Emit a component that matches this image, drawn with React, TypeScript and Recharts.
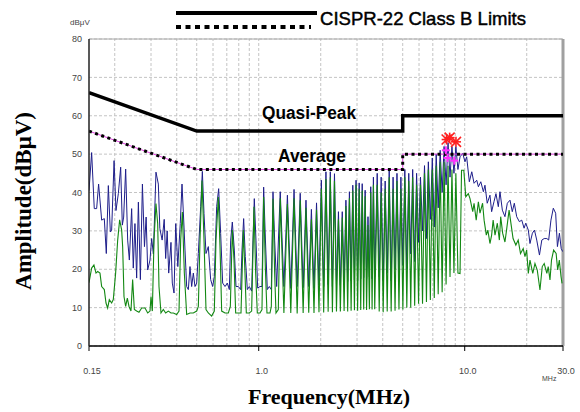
import { ComposedChart, Line, XAxis, YAxis, CartesianGrid, ReferenceLine, Scatter } from 'recharts';

// frequency in MHz, level in dBuV
const gridFreqs = [0.2, 0.3, 0.4, 0.5, 0.6, 0.7, 0.8, 0.9, 1, 2, 3, 4, 5, 6, 7, 8, 9, 10, 20];
const xTicks = [0.15, 1, 10, 30];
const yTicks = [0, 10, 20, 30, 40, 50, 60, 70, 80];

const qpLimit: [number, number][] = [[0.15, 66], [0.5, 56], [5, 56], [5, 60], [30, 60]];
const avgLimit: [number, number][] = [[0.15, 56], [0.5, 46], [5, 46], [5, 50], [30, 50]];

// peak detector scan (blue)
const peakScan: [number, number][] = [
  [0.15, 40.5], [0.1545, 50.4], [0.1591, 35.8], [0.1634, 35.8], [0.167, 42.2], [0.1728, 32.8], [0.178, 33.2],
  [0.182, 24.1], [0.1862, 41.8], [0.1904, 29.7], [0.1932, 30.2], [0.1985, 48.3], [0.2028, 35.3], [0.2082, 39.7],
  [0.2137, 46.6], [0.2177, 31.5], [0.221, 33.6], [0.226, 46.1], [0.2311, 27.6], [0.2355, 22.4], [0.2416, 35.8],
  [0.2461, 20.3], [0.2507, 31.9], [0.2555, 17.7], [0.2605, 37.5], [0.2664, 17.3], [0.2725, 42.2], [0.2788, 25.9],
  [0.2841, 33.6], [0.2891, 19.8], [0.2966, 22.4], [0.3022, 28.0], [0.308, 24.0], [0.3171, 45.3], [0.3256, 42.2],
  [0.3311, 30.6], [0.3398, 27.6], [0.3477, 33.0], [0.3534, 22.8], [0.3594, 30.0], [0.3656, 19.0], [0.375, 27.0],
  [0.3806, 16.4], [0.388, 13.8], [0.3955, 31.9], [0.4048, 20.7], [0.416, 31.9], [0.4242, 42.2], [0.4339, 31.0],
  [0.4387, 25.0], [0.4469, 15.5], [0.4553, 14.7], [0.4638, 20.7], [0.4726, 15.5], [0.4815, 19.0], [0.4905, 15.5],
  [0.4998, 16.4], [0.5092, 24.1], [0.5227, 36.3], [0.5325, 45.5], [0.5425, 34.5], [0.5547, 24.1], [0.5693, 25.9],
  [0.5844, 17.3], [0.5975, 15.5], [0.6088, 18.1], [0.6249, 36.3], [0.6391, 41.0], [0.6535, 29.3], [0.6683, 16.4],
  [0.686, 15.5], [0.7041, 16.4], [0.72, 14.7], [0.7309, 27.6], [0.7445, 32.3], [0.7614, 25.0], [0.7757, 15.5],
  [0.7962, 15.5], [0.8173, 14.7], [0.8296, 25.0], [0.845, 33.2], [0.8608, 23.3], [0.8803, 14.7], [0.9002, 15.5],
  [0.924, 14.3], [0.9379, 27.6], [0.9519, 38.4], [0.9698, 27.6], [0.9882, 15.1], [1.0143, 15.5], [1.0371, 15.5],
  [1.0566, 41.4], [1.0765, 28.4], [1.1008, 14.7], [1.1259, 15.5], [1.1513, 14.7], [1.173, 40.2], [1.1949, 27.6],
  [1.2221, 15.5], [1.272, 40.2], [1.325, 15.5], [1.378, 39.3], [1.431, 15.0], [1.484, 40.8], [1.537, 15.5],
  [1.59, 39.8], [1.643, 15.2], [1.696, 38.0], [1.749, 15.5], [1.802, 35.6], [1.855, 15.0], [1.908, 37.3],
  [1.961, 15.8], [2.014, 43.2], [2.067, 15.5], [2.12, 45.4], [2.173, 16.0], [2.226, 45.4], [2.279, 15.5],
  [2.332, 44.9], [2.385, 16.2], [2.438, 35.0], [2.491, 15.8], [2.544, 35.0], [2.597, 16.5], [2.65, 38.0],
  [2.703, 16.8], [2.756, 40.2], [2.809, 17.0], [2.862, 41.9], [2.915, 17.2], [2.968, 43.2], [3.021, 17.0],
  [3.074, 42.5], [3.127, 17.5], [3.18, 42.3], [3.233, 17.8], [3.286, 40.6], [3.339, 17.5], [3.392, 33.7],
  [3.445, 18.0], [3.498, 41.5], [3.551, 17.5], [3.604, 44.0], [3.657, 18.0], [3.76, 45], [3.845, 18],
  [3.93, 44], [4.02, 17], [4.11, 43], [4.205, 19], [4.3, 46], [4.395, 17], [4.49, 44], [4.59, 20], [4.69, 45],
  [4.795, 18], [4.9, 44], [5.01, 21], [5.12, 46], [5.235, 20], [5.35, 45], [5.47, 24], [5.59, 46], [5.715, 22],
  [5.84, 45], [5.97, 27], [6.1, 44], [6.24, 30], [6.38, 47], [6.52, 28], [6.66, 48], [6.81, 33], [6.96, 49],
  [7.115, 31], [7.27, 50], [7.435, 36], [7.6, 51], [7.77, 40], [7.94, 52], [8.12, 42], [8.3, 53], [8.485, 44],
  [8.67, 52], [8.865, 45], [9.06, 52], [9.27, 46], [9.49, 49.3], [9.78, 50.2], [10.03, 48.0], [10.22, 49.3],
  [10.53, 42.8], [10.82, 45.4], [11.1, 42.4], [11.44, 43.2], [11.65, 41.5], [11.97, 42.8], [12.32, 40.2],
  [12.54, 41.9], [12.86, 37.2], [13.26, 39.3], [13.51, 35.0], [13.87, 37.6], [14.18, 39.7], [14.56, 36.3],
  [14.83, 40.2], [15.23, 35.4], [15.68, 33.7], [16.1, 37.2], [16.59, 38.0], [17.02, 35.0], [17.41, 37.2],
  [17.88, 33.7], [18.42, 32.4], [18.92, 32.8], [19.42, 30.7], [19.78, 32.0], [20.36, 30.2], [20.74, 26.7],
  [21.31, 29.4], [21.81, 30.2], [22.37, 27.6], [23.06, 23.7], [23.67, 27.6], [24.31, 28.0], [25.04, 28.0],
  [25.56, 27.6], [26.22, 32.8], [26.92, 35.9], [27.64, 34.6], [28.19, 25.9], [28.82, 29.4], [29.4, 25.4],
  [29.9, 24.6],
];

// average detector scan (green)
const avgScan: [number, number][] = [
  [0.15, 16.5], [0.1545, 20.3], [0.1585, 21.1], [0.1622, 19.0], [0.1653, 19.4], [0.1696, 19.0], [0.1728, 15.5],
  [0.178, 14.7], [0.1814, 11.2], [0.1848, 9.9], [0.1882, 12.1], [0.1932, 11.2], [0.1968, 12.1], [0.202, 19.0],
  [0.2067, 27.6], [0.2113, 32.9], [0.2161, 30.2], [0.2185, 25.9], [0.2218, 12.9], [0.226, 10.3], [0.2302, 12.5],
  [0.2346, 10.3], [0.2398, 9.1], [0.2443, 17.3], [0.249, 9.5], [0.2555, 9.1], [0.2622, 8.8], [0.2703, 9.9],
  [0.2805, 9.9], [0.2891, 8.6], [0.2966, 9.1], [0.3, 12.9], [0.3045, 9.1], [0.3102, 27.6], [0.3171, 37.1],
  [0.3232, 31.9], [0.328, 15.5], [0.3354, 8.6], [0.3443, 9.5], [0.3534, 8.6], [0.3641, 9.1], [0.375, 8.6],
  [0.385, 8.6], [0.3996, 8.2], [0.4102, 9.1], [0.418, 27.6], [0.4259, 34.9], [0.4354, 19.0], [0.4469, 8.2],
  [0.4638, 8.6], [0.4815, 8.6], [0.4998, 9.1], [0.5092, 10.3], [0.5188, 27.6], [0.5305, 43.1], [0.5425, 27.6],
  [0.5547, 9.5], [0.5693, 8.6], [0.5909, 7.8], [0.6088, 9.1], [0.6203, 27.6], [0.6367, 38.8], [0.6487, 25.9],
  [0.6609, 9.1], [0.686, 8.6], [0.712, 8.6], [0.7281, 10.3], [0.7445, 30.2], [0.7585, 22.4], [0.7728, 8.6],
  [0.7962, 8.6], [0.8203, 8.6], [0.8419, 30.2], [0.8577, 19.0], [0.8706, 8.6], [0.9002, 8.6], [0.924, 9.1],
  [0.9484, 36.3], [0.9663, 19.0], [0.9844, 8.6], [1.0143, 8.6], [1.0371, 9.5], [1.0566, 38.8], [1.0765, 20.7],
  [1.0967, 8.6], [1.1343, 8.6], [1.1513, 10.3], [1.173, 38.4], [1.1949, 19.0], [1.213, 8.6], [1.2449, 9.5],
  [1.272, 38.5], [1.325, 8.6], [1.378, 37.0], [1.431, 8.6], [1.484, 38.5], [1.537, 8.5], [1.59, 38.0],
  [1.643, 8.6], [1.696, 36.0], [1.749, 8.7], [1.802, 33.0], [1.855, 8.6], [1.908, 35.5], [1.961, 8.8],
  [2.014, 41.0], [2.067, 8.7], [2.12, 43.5], [2.173, 8.9], [2.226, 44.0], [2.279, 8.8], [2.332, 43.0],
  [2.385, 9.0], [2.438, 33.0], [2.491, 9.0], [2.544, 33.5], [2.597, 9.1], [2.65, 36.5], [2.703, 9.0],
  [2.756, 38.5], [2.809, 9.2], [2.862, 40.5], [2.915, 9.3], [2.968, 42.0], [3.021, 9.2], [3.074, 41.0],
  [3.127, 9.4], [3.18, 40.5], [3.233, 9.5], [3.286, 39.0], [3.339, 9.4], [3.392, 31.5], [3.445, 9.6],
  [3.498, 40.0], [3.551, 9.5], [3.604, 42.0], [3.657, 9.6], [3.76, 42], [3.845, 9], [3.93, 40], [4.02, 8.8],
  [4.11, 41], [4.205, 9], [4.3, 44], [4.395, 9], [4.49, 41], [4.59, 9.2], [4.69, 43], [4.795, 9.5], [4.9, 41],
  [5.01, 9.5], [5.12, 44], [5.235, 10], [5.35, 43], [5.47, 10], [5.59, 44], [5.715, 10.5], [5.84, 42],
  [5.97, 11], [6.1, 42], [6.24, 11], [6.38, 45], [6.52, 11.5], [6.66, 46], [6.81, 12], [6.96, 46],
  [7.115, 12.5], [7.27, 47], [7.435, 13.5], [7.6, 48], [7.77, 14], [7.94, 48], [8.12, 16], [8.3, 47],
  [8.485, 18], [8.67, 46], [8.865, 19], [9.06, 45], [9.27, 19], [9.49, 18.9], [9.65, 45.8], [9.9, 45.8],
  [10.12, 38.9], [10.41, 39.7], [10.61, 38.4], [10.94, 35.0], [11.1, 37.2], [11.37, 32.8], [11.65, 37.6],
  [11.86, 34.6], [12.21, 37.2], [12.42, 32.8], [12.73, 28.9], [12.95, 30.2], [13.26, 26.7], [13.51, 28.9],
  [13.74, 32.8], [14.03, 28.9], [14.4, 32.0], [14.73, 27.6], [14.95, 33.7], [15.28, 29.4], [15.68, 27.1],
  [15.96, 30.2], [16.42, 35.4], [16.85, 31.1], [17.17, 28.0], [17.71, 26.3], [18.18, 27.6], [18.66, 24.1],
  [19.23, 25.4], [19.61, 23.3], [19.98, 25.0], [20.36, 18.9], [20.74, 22.4], [21.4, 18.9], [21.93, 21.5],
  [22.5, 19.8], [23.19, 14.6], [23.79, 20.7], [24.32, 21.5], [25.04, 18.9], [25.43, 20.7], [25.94, 17.2],
  [26.38, 22.4], [27.02, 25.0], [27.78, 24.1], [28.27, 19.8], [28.79, 22.4], [29.34, 18.1], [29.68, 16.3],
];

// final measurement markers
const qpMarks: [number, number][] = [[8.17, 53.8], [8.45, 54.3], [9.07, 53.2]];
const avgMarks: [number, number][] = [[8.1, 51.0], [8.25, 49.0], [8.9, 48.3]];

const toPts = (arr: [number, number][]) => arr.map(([f, v]) => ({ f, v }));

function Asterisk(props: any) {
  const { cx, cy } = props;
  const r = 5;
  return (
    <g stroke="#ff2020" strokeWidth={1.6}>
      <line x1={cx - r} y1={cy} x2={cx + r} y2={cy} />
      <line x1={cx} y1={cy - r} x2={cx} y2={cy + r} />
      <line x1={cx - r} y1={cy - r} x2={cx + r} y2={cy + r} />
      <line x1={cx - r} y1={cy + r} x2={cx + r} y2={cy - r} />
    </g>
  );
}

function Plus(props: any) {
  const { cx, cy } = props;
  const r = 4;
  return (
    <g stroke="#ff30ff" strokeWidth={2}>
      <line x1={cx - r} y1={cy} x2={cx + r} y2={cy} />
      <line x1={cx} y1={cy - r} x2={cx} y2={cy + r} />
    </g>
  );
}

const tickFont = { fill: '#444', fontSize: 9, fontFamily: 'Liberation Sans, Arial, sans-serif' };

export default function App() {
  return (
    <div style={{ position: 'absolute', left: 0, top: 0, width: 580, height: 412, background: '#fff' }}>
      <ComposedChart width={580} height={412} margin={{ top: 39, right: 17, left: 0, bottom: 0 }}>
        <CartesianGrid vertical={false} stroke="#c4c4c4" strokeDasharray="3 2" />
        {gridFreqs.map((f) => (
          <ReferenceLine key={f} x={f} stroke="#c4c4c4" strokeDasharray="3 2" />
        ))}
        <ReferenceLine y={80} stroke="#a8a8a8" />
        <ReferenceLine x={30} stroke="#a0a0a0" strokeWidth={3} />
        <XAxis
          dataKey="f"
          type="number"
          scale="log"
          domain={[0.15, 30]}
          allowDataOverflow
          ticks={xTicks}
          interval={0}
          tickFormatter={(v: number) => (v === 0.15 ? '0.15' : v.toFixed(1))}
          tick={{ ...tickFont, dx: 3 }}
          tickSize={5}
          tickMargin={17}
          axisLine={{ stroke: '#000', strokeWidth: 1.5 }}
          tickLine={{ stroke: '#000' }}
          height={66}
        />
        <YAxis
          dataKey="v"
          type="number"
          domain={[0, 80]}
          ticks={yTicks}
          interval={0}
          tick={tickFont}
          tickSize={0}
          tickMargin={7}
          tickLine={false}
          axisLine={{ stroke: '#222', strokeWidth: 1.5 }}
          width={89}
        />
        <Line data={toPts(peakScan)} dataKey="v" type="linear" stroke="#1e1e8a" strokeWidth={1} dot={false} isAnimationActive={false} />
        <Line data={toPts(avgScan)} dataKey="v" type="linear" stroke="#138813" strokeWidth={1.1} dot={false} isAnimationActive={false} />
        <Line data={toPts(avgLimit)} dataKey="v" type="linear" stroke="#e040e0" strokeWidth={1} dot={false} isAnimationActive={false} />
        <Line data={toPts(avgLimit)} dataKey="v" type="linear" stroke="#000" strokeWidth={3} strokeDasharray="3 3.5" dot={false} isAnimationActive={false} />
        <Line data={toPts(qpLimit)} dataKey="v" type="linear" stroke="#000" strokeWidth={3.5} dot={false} isAnimationActive={false} />
        <Scatter data={toPts(avgMarks)} dataKey="v" shape={<Plus />} isAnimationActive={false} />
        <Scatter data={toPts(qpMarks)} dataKey="v" shape={<Asterisk />} isAnimationActive={false} />
      </ComposedChart>
      <svg width={580} height={412} style={{ position: 'absolute', left: 0, top: 0, pointerEvents: 'none' }}>
        <line x1={176} y1={13} x2={317} y2={13} stroke="#000" strokeWidth={4} />
        <line x1={176} y1={27} x2={311} y2={27} stroke="#000" strokeWidth={4} strokeDasharray="5 4.5" />
        <text x={320} y={25} fontSize={19} fontFamily="Liberation Sans, Arial, sans-serif" stroke="#000" strokeWidth={0.45} textLength={206} lengthAdjust="spacingAndGlyphs">
          CISPR-22 Class B Limits
        </text>
        <text x={70} y={25} fontSize={8} fill="#444" fontFamily="Liberation Sans, Arial, sans-serif">dBμV</text>
        <text x={542} y={381} fontSize={7} fill="#444" fontFamily="Liberation Sans, Arial, sans-serif">MHz</text>
        <text x={262} y={119} fontSize={18} fontWeight="bold" fontFamily="Liberation Sans, Arial, sans-serif" textLength={94} lengthAdjust="spacingAndGlyphs">
          Quasi-Peak
        </text>
        <text x={278} y={162} fontSize={18} fontWeight="bold" fontFamily="Liberation Sans, Arial, sans-serif" textLength={68} lengthAdjust="spacingAndGlyphs">
          Average
        </text>
        <text x={31} y={201} transform="rotate(-90 31 201)" textAnchor="middle" fontSize={23} fontWeight="bold" fontFamily="Liberation Serif, Times New Roman, serif">
          Amplitude(dBμV)
        </text>
        <text x={329} y={404} textAnchor="middle" fontSize={22} fontWeight="bold" fontFamily="Liberation Serif, Times New Roman, serif">
          Frequency(MHz)
        </text>
      </svg>
    </div>
  );
}
